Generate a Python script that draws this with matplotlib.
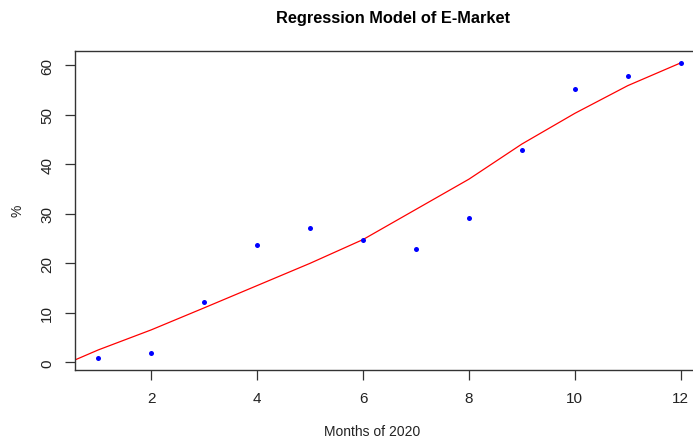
import matplotlib
matplotlib.use("Agg")
import matplotlib.pyplot as plt

# data
months = [1, 2, 3, 4, 5, 6, 7, 8, 9, 10, 11, 12]
share = [0.8, 1.8, 12.2, 23.7, 27.05, 24.7, 22.9, 29.15, 42.95, 55.2, 57.8, 60.5]

# fitted curve (regression model)
fit_x = [0, 1, 2, 3, 4, 5, 6, 7, 8, 9, 10, 11, 12]
fit_y = [-2.1, 2.5, 6.55, 11.0, 15.5, 20.0, 24.8, 30.9, 37.0, 44.1, 50.3, 55.9, 60.5]

plt.rcParams['font.family'] = ['Liberation Sans', 'DejaVu Sans']

fig = plt.figure(figsize=(6.93, 4.39), dpi=100)
# axes box runs past the right edge of the picture (cropped like the original)
ax = fig.add_axes([75/693, (439-371)/439, 629/693, (371-52)/439])

ax.plot(fit_x, fit_y, color='red', linewidth=0.9, zorder=2)
ax.plot(months, share, 'o', color='blue', markersize=3.6, markeredgewidth=0, zorder=3)

ax.set_xlim(0.56, 12.44)
ax.set_ylim(-1.56, 62.9)
ax.set_xticks([2, 4, 6, 8, 10, 12])
ax.set_yticks([0, 10, 20, 30, 40, 50, 60])

for side in ['left', 'top', 'bottom', 'right']:
    ax.spines[side].set_color('#333333')
    ax.spines[side].set_linewidth(1.0)

ax.tick_params(direction='out', length=7, width=0.9, color='#333333',
               labelsize=11, labelcolor='#222222', pad=8)
for lbl in ax.get_xticklabels() + ax.get_yticklabels():
    lbl.set_family(['Liberation Sans Narrow', 'Liberation Sans', 'DejaVu Sans'])
plt.setp(ax.get_yticklabels(), rotation=90, va='center')

fig.text(372/693, 1 - 432/439, 'Months of 2020', ha='center', va='center',
         fontsize=10, color='#222222')
fig.text(18/693, 1 - 211/439, '%', ha='center', va='center', rotation=90,
         fontsize=10, color='#222222')
fig.text(393/693, 1 - 19/439, 'Regression Model of E-Market', ha='center', va='center',
         fontsize=11.8, fontweight='bold', color='black')

fig.savefig('out.png', dpi=100)
